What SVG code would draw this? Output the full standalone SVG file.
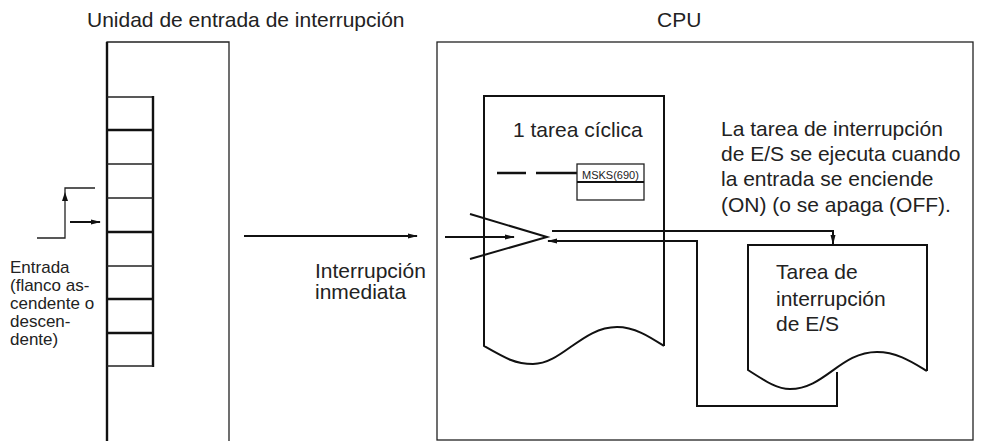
<svg xmlns="http://www.w3.org/2000/svg" width="981" height="441" viewBox="0 0 981 441">
<style>
text{font-family:"Liberation Sans",Arial,sans-serif;fill:#222}
.lbl{font-size:21px}
.sm{font-size:17px}
.thin{fill:none;stroke:#222;stroke-width:1.3}
.thick{fill:none;stroke:#111;stroke-width:2.4}
.ln{fill:none;stroke:#111;stroke-width:2}
</style>
<defs>
<marker id="ah" markerWidth="10" markerHeight="8" refX="9" refY="4" orient="auto" markerUnits="userSpaceOnUse">
<path d="M0,1.5 L10,4 L0,6.5 Z" fill="#111"/>
</marker>
</defs>

<g id="unit">
<text class="lbl" x="87" y="27" font-size="21.5">Unidad de entrada de interrupción</text>
<path class="thin" d="M107,441 V42 H229 V441"/>
<line class="thick" x1="107" y1="42" x2="107" y2="441"/>
<g id="slots">
<path class="thin" d="M107,97 H153"/>
<path class="thick" d="M153,96 V367"/>
<path class="thick" d="M107,130 H153"/>
<path class="thin" d="M107,164 H153"/>
<path class="thin" d="M107,198 H153"/>
<path class="thick" d="M107,232 H153"/>
<path class="thin" d="M107,266 H153"/>
<path class="thick" d="M107,299 H153"/>
<path class="thick" d="M107,333 H153"/>
<path class="thin" d="M107,366 H153"/>
</g>
</g>

<g id="input">
<path class="thin" d="M37,238 H65 V188 H95"/>
<path d="M65,192 L62,201 L68,201 Z" fill="#111"/>
<text class="sm" x="10" y="273">Entrada</text>
<text class="sm" x="10" y="291">(flanco as-</text>
<text class="sm" x="10" y="309">cendente o</text>
<text class="sm" x="10" y="327">descen-</text>
<text class="sm" x="10" y="345">dente)</text>
</g>

<g id="cpu">
<text class="lbl" x="657" y="27">CPU</text>
<rect class="thin" x="437" y="42" width="536" height="398"/>
</g>

<g id="cyclic">
<path class="ln" d="M664,346 V96 H484 V346 C505,358 515,364 533,364 C562,364 582,327 617,327 C635,327 650,337 664,346"/>
<text class="lbl" x="513" y="137">1 tarea cíclica</text>
<path class="thick" d="M497,173 H526 M536,173 H577"/>
<g id="msks">
<rect class="thin" x="577" y="164" width="67" height="36" fill="#fff"/>
<line x1="577" y1="182" x2="644" y2="182" stroke="#111" stroke-width="2"/>
<text x="582" y="179" font-size="11">MSKS(690)</text>
</g>
</g>

<g id="interrupt-task">
<path class="ln" d="M927,371 V245 H748 V370 C768,383 778,389 790,389 C825,389 840,352 877,352 C897,352 912,362 927,371"/>
<text class="lbl" x="776" y="279">Tarea de</text>
<text class="lbl" x="776" y="306">interrupción</text>
<text class="lbl" x="776" y="331">de E/S</text>
</g>

<g id="note">
<text class="lbl" x="721" y="136">La tarea de interrupción</text>
<text class="lbl" x="721" y="161">de E/S se ejecuta cuando</text>
<text class="lbl" x="721" y="186">la entrada se enciende</text>
<text class="lbl" x="721" y="212">(ON) (o se apaga (OFF).</text>
</g>

<g id="connectors">
<line class="ln" x1="70" y1="222" x2="100" y2="222" marker-end="url(#ah)"/>
<line class="ln" x1="244" y1="236" x2="417" y2="236" marker-end="url(#ah)"/>
<text class="lbl" x="315" y="278">Interrupción</text>
<text class="lbl" x="315" y="299">inmediata</text>
<line class="ln" x1="445" y1="237" x2="514" y2="237" marker-end="url(#ah)"/>
<path class="ln" d="M470,214 L547,237 L470,259"/>
<path class="ln" d="M552,231 H833 V244" marker-end="url(#ah)"/>
<path class="ln" d="M837,372 V406 H697 V241 H548" marker-end="url(#ah)"/>
</g>
</svg>
